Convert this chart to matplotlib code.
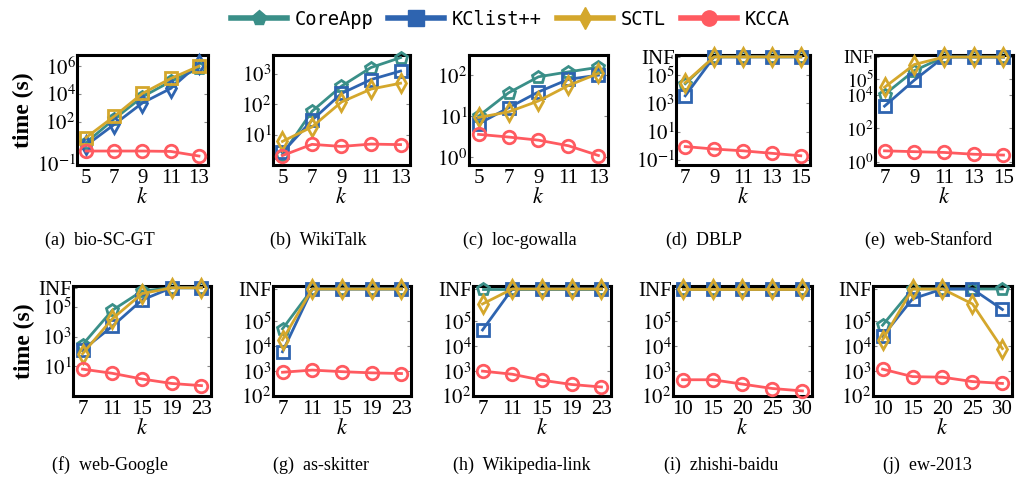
import numpy as np
import matplotlib
matplotlib.use("Agg")
import matplotlib.pyplot as plt
from matplotlib.lines import Line2D

plt.rcParams["font.family"] = ["Liberation Serif", "DejaVu Serif"]
plt.rcParams["mathtext.fontset"] = "stix"

INF = 10 ** 6.3

methods = ["CoreApp", "KClist++", "SCTL", "KCCA"]
colors = ["#3a8f88", "#2e64b0", "#d4a72c", "#ff5a60"]
markers = ["p", "s", "d", "o"]

captions = ["(a)  bio-SC-GT", "(b)  WikiTalk", "(c)  loc-gowalla", "(d)  DBLP", "(e)  web-Stanford",
            "(f)  web-Google", "(g)  as-skitter", "(h)  Wikipedia-link", "(i)  zhishi-baidu", "(j)  ew-2013"]

k_a = [5, 7, 9, 11, 13]
k_d = [7, 9, 11, 13, 15]
k_f = [7, 11, 15, 19, 23]
k_i = [10, 15, 20, 25, 30]
ks = [k_a, k_a, k_a, k_d, k_d, k_f, k_f, k_f, k_i, k_i]

# values per panel: CoreApp, KClist++, SCTL, KCCA
coreapp = [
    [3.2, 160, 6300, 8e4, 7e5],
    [2.2, 59, 400, 1650, 3500],
    [10, 37, 91, 120, 155],
    [2.5e4, INF, INF, INF, INF],
    [1.1e4, 3e5, INF, INF, INF],
    [290, 6e4, 1.2e6, INF, INF],
    [5e4, INF, INF, INF, INF],
    [INF, INF, INF, INF, INF],
    [INF, INF, INF, INF, INF],
    [7e4, INF, INF, INF, INF],
]
kclist = [
    [2.0, 65, 2300, 2.5e4, 1.5e6],
    [2.6, 30, 230, 660, 1260],
    [6.5, 16, 39, 79, 100],
    [3500, INF, INF, INF, INF],
    [2200, 8e4, INF, INF, INF],
    [125, 5e3, 3e5, INF, INF],
    [6e3, INF, INF, INF, INF],
    [4.5e4, INF, INF, INF, INF],
    [INF, INF, INF, INF, INF],
    [2.5e4, 8e5, INF, INF, 3e5],
]
sctl = [
    [7.4, 250, 1.1e4, 1.3e5, 1e6],
    [6, 18, 120, 320, 500],
    [9.3, 12.7, 23.5, 56, 110],
    [3e4, INF, INF, INF, INF],
    [3e4, 7e5, INF, INF, INF],
    [70, 1.6e4, 8e5, INF, INF],
    [1.8e4, INF, INF, INF, INF],
    [5e5, INF, INF, INF, INF],
    [INF, INF, INF, INF, INF],
    [1.8e4, INF, INF, 5e5, 8e3],
]
kcca = [
    [0.8, 0.8, 0.8, 0.75, 0.35],
    [2.05, 4.8, 4.1, 4.9, 4.7],
    [3.6, 3.1, 2.6, 1.9, 1.1],
    [0.9, 0.6, 0.45, 0.3, 0.2],
    [4.5, 4.0, 3.6, 2.8, 2.5],
    [6.5, 3.4, 1.4, 0.7, 0.5],
    [900, 1100, 950, 850, 800],
    [1000, 750, 430, 290, 230],
    [450, 450, 300, 200, 160],
    [1200, 600, 570, 380, 320],
]

ylims = [(10 ** -1.1, 10 ** 6.8), (1, 10 ** 3.63), (10 ** -0.19, 10 ** 2.49),
         (10 ** -1.35, 10 ** 6.43), (10 ** -0.2, 10 ** 6.42), (10 ** -1.0, 10 ** 6.42),
         (100, 10 ** 6.42), (100, 10 ** 6.42), (100, 10 ** 6.42), (100, 10 ** 6.42)]
yticks = [[1e-1, 1e2, 1e4, 1e6], [1e1, 1e2, 1e3], [1, 1e1, 1e2],
          [1e-1, 1e1, 1e3, 1e5, INF], [1, 1e2, 1e4, 1e5, INF], [1e1, 1e3, 1e5, INF],
          [1e2, 1e3, 1e4, 1e5, INF], [1e2, 1e3, 1e4, 1e5, INF], [1e2, 1e3, 1e4, 1e5, INF],
          [1e2, 1e3, 1e4, 1e5, INF]]

# axes boxes in pixels: left, top, width; caption centre x and offset
W, H = 1020, 483
boxes = [(77, 55, 131), (273, 55, 137), (469, 55, 139), (676, 55, 134), (875, 55, 138),
         (73, 286, 138), (273, 286, 138), (473, 286, 138), (673, 286, 139), (873, 286, 139)]
cap_x = [100, 318, 520, 704, 929, 110, 321, 522, 721, 927]
cap_off = [185] * 5 + [179] * 5
ax_h = 110


def fmt(v):
    if v == INF:
        return "INF"
    e = int(round(np.log10(v)))
    return r"$10^{%d}$" % e


fig = plt.figure(figsize=(10.2, 4.83), dpi=100)

for i in range(10):
    l, t, w = boxes[i]
    ax = fig.add_axes([l / W, 1 - (t + ax_h) / H, w / W, ax_h / H])
    series = [coreapp[i], kclist[i], sctl[i], kcca[i]]
    for j in range(4):
        m = markers[j]
        if i == 0 and j == 1:
            m = "d"
        if i == 0 and j == 2:
            m = "s"
        ax.plot(ks[i], series[j], color=colors[j], marker=m, markersize=9,
                markerfacecolor="none", markeredgewidth=2, linewidth=2, clip_on=False, zorder=3 + j)
    ax.set_yscale("log")
    ax.set_ylim(*ylims[i])
    ax.set_yticks(yticks[i])
    ax.set_yticklabels([fmt(v) for v in yticks[i]])
    ax.yaxis.set_minor_locator(matplotlib.ticker.NullLocator())
    ax.set_xticks(ks[i])
    pad = (ks[i][-1] - ks[i][0]) * 0.08
    ax.set_xlim(ks[i][0] - pad, ks[i][-1] + pad)
    ax.tick_params(axis="both", labelsize=15, pad=1)
    ax.tick_params(axis="y", direction="in", right=True, length=3, color="#888888")
    if i == 4:
        ax.tick_params(axis="y", labelsize=13.5)
    ax.tick_params(axis="x", direction="out", length=0, pad=3)
    for s in ax.spines.values():
        s.set_linewidth(2.2)
    ax.set_xlabel("$k$", fontsize=16, labelpad=0)
    if i in (0, 5):
        ax.set_ylabel("time (s)", fontsize=17, fontweight="bold", labelpad=2)
    fig.text(cap_x[i] / W, 1 - (t + cap_off[i]) / H, captions[i], ha="center", va="center", fontsize=13)

handles = [Line2D([], [], color=colors[j], marker=markers[j], markersize=11, linewidth=4)
           for j in range(4)]
fig.legend(handles, methods, loc="upper center", bbox_to_anchor=(0.5, 1.015), ncol=4,
           frameon=False, prop={"family": "DejaVu Sans Mono", "size": 13.5},
           handlelength=3.0, columnspacing=0.8, handletextpad=0.4)

fig.savefig("out.png", dpi=100)
